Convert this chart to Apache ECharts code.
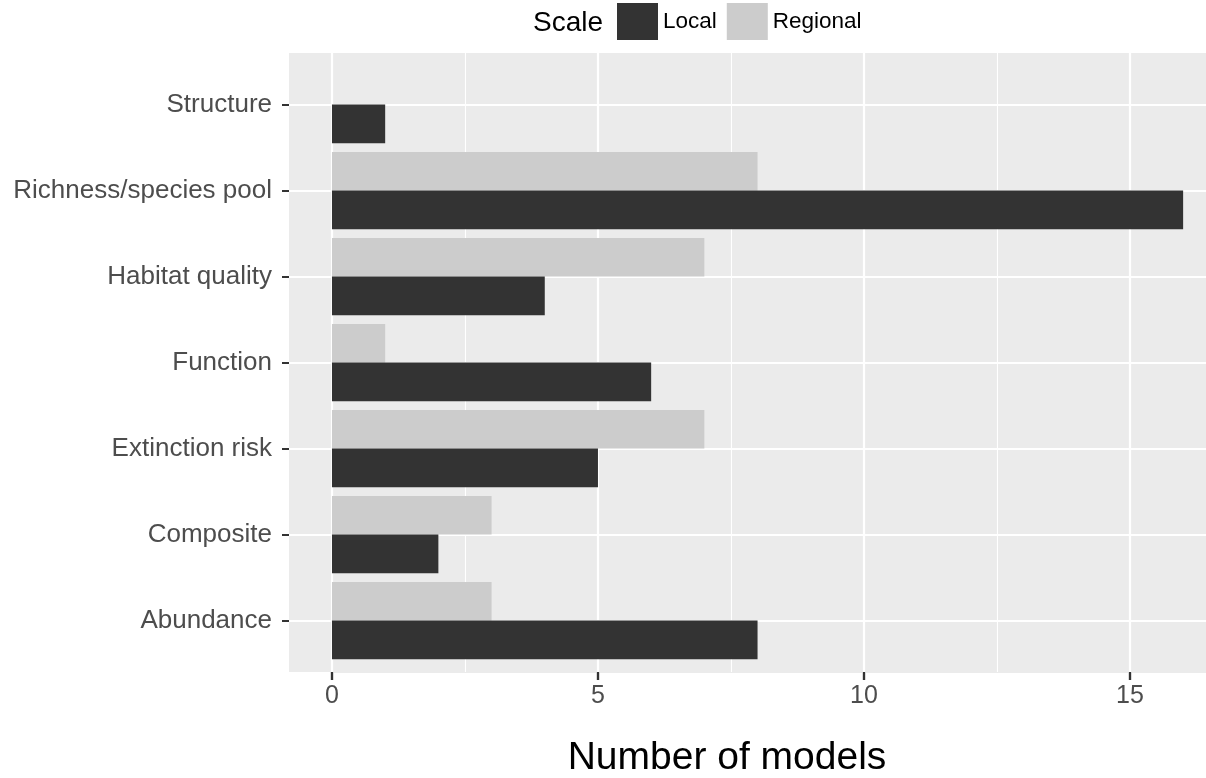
<!DOCTYPE html>
<html>
<head>
<meta charset="utf-8">
<script src="https://cdn.jsdelivr.net/npm/echarts@6/dist/echarts.min.js"></script>
<style>
html,body{margin:0;padding:0;background:#fff;}
#chart{width:1206px;height:778px;}
</style>
</head>
<body>
<div id="chart"></div>
<script>
const categories = ['Abundance','Composite','Extinction risk','Function','Habitat quality','Richness/species pool','Structure'];
const localValues = [8, 2, 5, 6, 4, 16, 1];
const regionalValues = [3, 3, 7, 1, 7, 8, 0];
const xTicks = [0, 5, 10, 15];
const legendTitle = 'Scale';
const xTitle = 'Number of models';

const FONT = 'Liberation Sans, Arial, Helvetica, sans-serif';
const X_MIN = -0.808, X_MAX = 16.43;
const chart = echarts.init(document.getElementById('chart'), null, {renderer: 'canvas'});
const option = {
  animation: false,
  textStyle: {fontFamily: FONT},
  grid: [
    // 0: horizontal gridlines (first to last category centre)
    {left: 289, right: 0, top: 104.6, height: 516, show: false},
    // 1: vertical gridlines + x labels
    {left: 332, right: 0, top: 53, height: 619, show: false},
    // 2: bars
    {left: 289, right: 0, top: 61.6, height: 602, show: false},
    // 3: x tick marks strip below the panel
    {left: 332, right: 0, top: 672, height: 8, show: false}
  ],
  xAxis: [
    {type: 'value', gridIndex: 0, min: 0, max: 1, show: false, splitLine: {show: false}},
    // labels + ticks, drawn on top
    {type: 'value', gridIndex: 1, min: 0, max: X_MAX, interval: 5,
     axisLine: {show: true, onZero: false, lineStyle: {color: '#EBEBEB', width: 1}},
     axisTick: {show: true, length: 8, lineStyle: {color: '#333333', width: 2.2}, customValues: xTicks},
     axisLabel: {fontSize: 25, color: '#4D4D4D', margin: 12, fontFamily: FONT, customValues: xTicks},
     splitLine: {show: false}, z: 10},
    // major vertical gridlines
    {type: 'value', gridIndex: 1, min: 0, max: X_MAX, interval: 5,
     axisLine: {show: false}, axisTick: {show: false}, axisLabel: {show: false},
     splitLine: {show: true, showMaxLine: false, lineStyle: {color: '#FFFFFF', width: 2.2}}, z: 1},
    // minor vertical gridlines
    {type: 'value', gridIndex: 1, min: 0, max: X_MAX, interval: 2.5,
     axisLine: {show: false}, axisTick: {show: false}, axisLabel: {show: false},
     splitLine: {show: true, showMaxLine: false, lineStyle: {color: '#FFFFFF', width: 1.1}}, z: 0},
    // bars
    {type: 'value', gridIndex: 2, min: X_MIN, max: X_MAX, show: false, splitLine: {show: false}},
    // tick strip
    {type: 'value', gridIndex: 3, min: 0, max: X_MAX, interval: 5,
     axisLine: {show: false}, axisTick: {show: false}, axisLabel: {show: false},
     splitLine: {show: true, showMaxLine: false, lineStyle: {color: '#333333', width: 2.2}}, z: 10}
  ],
  yAxis: [
    {type: 'value', gridIndex: 0, min: 0, max: 6, interval: 1,
     axisLine: {show: false}, axisTick: {show: false}, axisLabel: {show: false},
     splitLine: {show: true, lineStyle: {color: '#FFFFFF', width: 2.2}}, z: 1},
    {type: 'value', gridIndex: 1, min: 0, max: 1, show: false, splitLine: {show: false}},
    {type: 'category', gridIndex: 2, data: categories,
     axisLine: {show: false, onZero: false},
     axisTick: {show: true, alignWithLabel: true, length: 7, lineStyle: {color: '#333333', width: 2}},
     axisLabel: {fontSize: 26, color: '#4D4D4D', margin: 17, fontFamily: FONT},
     splitLine: {show: false}},
    {type: 'value', gridIndex: 3, min: 0, max: 1, show: false, splitLine: {show: false}}
  ],
  legend: {
    data: ['Local', 'Regional'],
    left: 617, top: 3, padding: 0,
    itemWidth: 41, itemHeight: 37, itemGap: 10,
    icon: 'rect',
    textStyle: {fontSize: 22.5, color: '#000000', fontFamily: FONT}
  },
  series: [
    {name: 'Regional', type: 'bar', xAxisIndex: 4, yAxisIndex: 2, data: regionalValues,
     itemStyle: {color: '#CCCCCC'}, barGap: '0%', barCategoryGap: '10%', z: 3},
    {name: 'Local', type: 'bar', xAxisIndex: 4, yAxisIndex: 2, data: localValues,
     itemStyle: {color: '#333333'}, barGap: '0%', barCategoryGap: '10%', z: 3}
  ],
  graphic: [
    {type: 'rect', z: -10, shape: {x: 289, y: 53, width: 917, height: 619}, style: {fill: '#EBEBEB'}, silent: true},
    {type: 'text', x: 533, y: 23, style: {text: legendTitle, fontSize: 28, fill: '#000000', fontFamily: FONT, textAlign: 'left', textVerticalAlign: 'middle'}},
    {type: 'text', x: 727, y: 758, style: {text: xTitle, fontSize: 39, fill: '#000000', fontFamily: FONT, textAlign: 'center', textVerticalAlign: 'middle'}}
  ]
};
chart.setOption(option);
</script>
</body>
</html>
